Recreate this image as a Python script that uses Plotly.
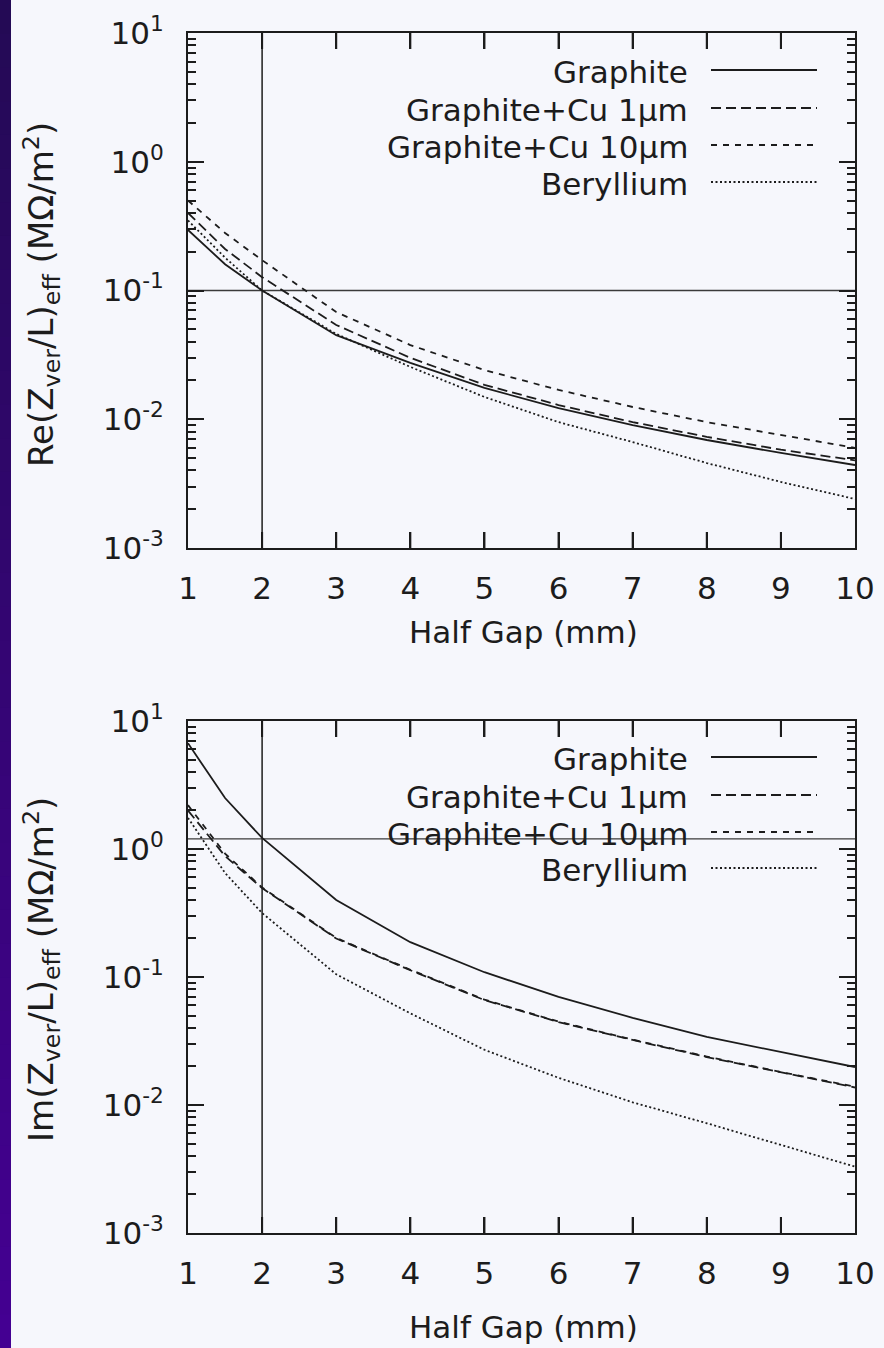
import plotly.graph_objects as go

# ---------------- data ----------------
half_gap = [1, 1.5, 2, 3, 4, 5, 6, 7, 8, 9, 10]
series_names = ["Graphite", "Graphite+Cu 1\u00b5m", "Graphite+Cu 10\u00b5m", "Beryllium"]

re_graphite = [0.295, 0.160, 0.100, 0.045, 0.0274, 0.0175, 0.0122, 0.0090, 0.0069, 0.00547, 0.00441]
re_cu1      = [0.400, 0.210, 0.127, 0.054, 0.0300, 0.0185, 0.0129, 0.0095, 0.0073, 0.00580, 0.00480]
re_cu10     = [0.500, 0.280, 0.172, 0.068, 0.0377, 0.0241, 0.0169, 0.01245, 0.0095, 0.00755, 0.00600]
re_be       = [0.350, 0.180, 0.100, 0.046, 0.0255, 0.0149, 0.0095, 0.00665, 0.00457, 0.00326, 0.00240]

im_graphite = [6.70, 2.50, 1.22, 0.40, 0.187, 0.109, 0.070, 0.048, 0.034, 0.026, 0.0198]
im_cu1      = [2.00, 0.88, 0.495, 0.200, 0.113, 0.066, 0.0445, 0.0322, 0.0237, 0.0180, 0.0137]
im_cu10     = [2.20, 0.92, 0.500, 0.202, 0.114, 0.0665, 0.0448, 0.0324, 0.0239, 0.0181, 0.0139]
im_be       = [1.75, 0.65, 0.316, 0.105, 0.052, 0.027, 0.0163, 0.0105, 0.0072, 0.00487, 0.0033]

x_ticks = [1, 2, 3, 4, 5, 6, 7, 8, 9, 10]
y_tick_vals = [1e-3, 1e-2, 1e-1, 1e0, 1e1]
y_tick_text = ["10<sup>-3</sup>", "10<sup>-2</sup>", "10<sup>-1</sup>", "10<sup>0</sup>", "10<sup>1</sup>"]
y_minor_vals = [k * 10.0 ** e for e in range(-3, 1) for k in range(2, 10)]

vline_x = 2
hline_re = 0.1
hline_im = 1.2

x_title = "Half Gap (mm)"
re_title = "Re(Z<sub>ver</sub>/L)<sub>eff</sub> (M\u03a9/m<sup>2</sup>)"
im_title = "Im(Z<sub>ver</sub>/L)<sub>eff</sub> (M\u03a9/m<sup>2</sup>)"

# ---------------- style ----------------
W, H = 884, 1348
FONT = "DejaVu Sans"
INK = "#1c1c1c"
BG = "#f6f7fc"
dashes = ["solid", "10px,5px", "6px,6px", "2px,2.5px"]
line_w = 1.8
TICK_LEN = 16


def px_x(p):
    return p / W


def px_y(p):
    return 1 - p / H


fig = go.Figure()

panels = [
    dict(xa="x", ya="y", series=[re_graphite, re_cu1, re_cu10, re_be], hline=hline_re,
         top=33, bottom=548),
    dict(xa="x2", ya="y2", series=[im_graphite, im_cu1, im_cu10, im_be], hline=hline_im,
         top=721, bottom=1233),
]

for p in panels:
    fig.add_trace(go.Scatter(x=[x_ticks[0], x_ticks[-1]], y=[p["hline"], p["hline"]], mode="lines",
                             line=dict(color="#3a3a3a", width=1.4), xaxis=p["xa"], yaxis=p["ya"],
                             showlegend=False, hoverinfo="skip"))
    fig.add_trace(go.Scatter(x=[vline_x, vline_x], y=[y_tick_vals[0], y_tick_vals[-1]], mode="lines",
                             line=dict(color="#2a2a2a", width=1.6), xaxis=p["xa"], yaxis=p["ya"],
                             showlegend=False, hoverinfo="skip"))
    for name, ys, d in zip(series_names, p["series"], dashes):
        fig.add_trace(go.Scatter(x=half_gap, y=ys, mode="lines", name=name,
                                 line=dict(color=INK, width=line_w, dash=d),
                                 xaxis=p["xa"], yaxis=p["ya"], showlegend=False))

xdom = [px_x(188), px_x(855)]

xaxis_common = dict(range=[1, 10], tickmode="array", tickvals=x_ticks, ticks="inside",
                    ticklen=TICK_LEN, tickwidth=2, tickcolor=INK, showline=True, linewidth=2,
                    linecolor=INK, mirror="ticks", showgrid=False, zeroline=False, domain=xdom,
                    automargin=False, tickfont=dict(family=FONT, size=31, color=INK),
                    ticklabelstandoff=12)
yaxis_common = dict(type="log", range=[-3, 1], tickmode="array", tickvals=y_tick_vals,
                    ticktext=y_tick_text, ticks="inside", ticklen=TICK_LEN, tickwidth=2,
                    tickcolor=INK, showline=True, linewidth=2, linecolor=INK, mirror="ticks",
                    showgrid=False, zeroline=False, automargin=False,
                    tickfont=dict(family=FONT, size=31, color=INK), ticklabelstandoff=16,
                    minor=dict(tickvals=y_minor_vals, ticks="inside", ticklen=8,
                               tickwidth=1.6, tickcolor=INK, showgrid=False))

fig.update_layout(
    width=W, height=H, margin=dict(l=0, r=0, t=0, b=0, pad=0, autoexpand=False),
    paper_bgcolor=BG, plot_bgcolor=BG,
    xaxis=dict(**xaxis_common, anchor="y"),
    yaxis=dict(**yaxis_common, domain=[px_y(panels[0]["bottom"]), px_y(panels[0]["top"])], anchor="x"),
    xaxis2=dict(**xaxis_common, anchor="y2"),
    yaxis2=dict(**yaxis_common, domain=[px_y(panels[1]["bottom"]), px_y(panels[1]["top"])], anchor="x2"),
    showlegend=False,
)

annotations = []
shapes = []

# explicit inside x ticks (bottom and top edges of each panel)
for p in panels:
    frac = TICK_LEN / (p["bottom"] - p["top"])
    for xv in x_ticks[1:-1]:
        for y0, y1 in ((0, frac), (1 - frac, 1)):
            shapes.append(dict(type="line", xref=p["xa"], yref=p["ya"] + " domain",
                               x0=xv, x1=xv, y0=y0, y1=y1, line=dict(color=INK, width=2)))

for yc in (632, 1327):
    annotations.append(dict(text=x_title, x=px_x(523), y=px_y(yc), xref="paper", yref="paper",
                            xanchor="center", yanchor="middle", showarrow=False,
                            font=dict(family=FONT, size=31, color=INK)))
for txt, yc in ((re_title, 295), (im_title, 970)):
    annotations.append(dict(text=txt, x=px_x(41), y=px_y(yc), xref="paper", yref="paper",
                            xanchor="center", yanchor="middle", showarrow=False, textangle=-90,
                            font=dict(family=FONT, size=34, color=INK)))

legend_rows = {"top": [70, 108, 145, 182], "bot": [757, 795, 832, 868]}
for rows in legend_rows.values():
    for name, d, yr in zip(series_names, dashes, rows):
        annotations.append(dict(text=name, x=px_x(690), y=px_y(yr + 2), xref="paper", yref="paper",
                                xanchor="right", yanchor="middle", showarrow=False,
                                font=dict(family=FONT, size=31, color=INK)))
        shapes.append(dict(type="line", xref="paper", yref="paper", x0=px_x(711), x1=px_x(817),
                           y0=px_y(yr), y1=px_y(yr), line=dict(color=INK, width=line_w, dash=d)))

n_bands = 40
c0 = (0x24, 0x0a, 0x55)
c1 = (0x44, 0x00, 0x92)
for i in range(n_bands):
    t = i / (n_bands - 1)
    col = "rgb(%d,%d,%d)" % tuple(round(a + (b - a) * t) for a, b in zip(c0, c1))
    shapes.append(dict(type="rect", xref="paper", yref="paper", x0=0, x1=px_x(11),
                       y0=max(0.0, 1 - (i + 1.6) / n_bands), y1=1 - i / n_bands,
                       line=dict(width=0), fillcolor=col, layer="below"))

fig.update_layout(annotations=annotations, shapes=shapes)
fig.write_html("out.html", config={"displayModeBar": False},
               post_script="document.body.style.margin='0';"
                           "document.documentElement.style.overflow='hidden';")
